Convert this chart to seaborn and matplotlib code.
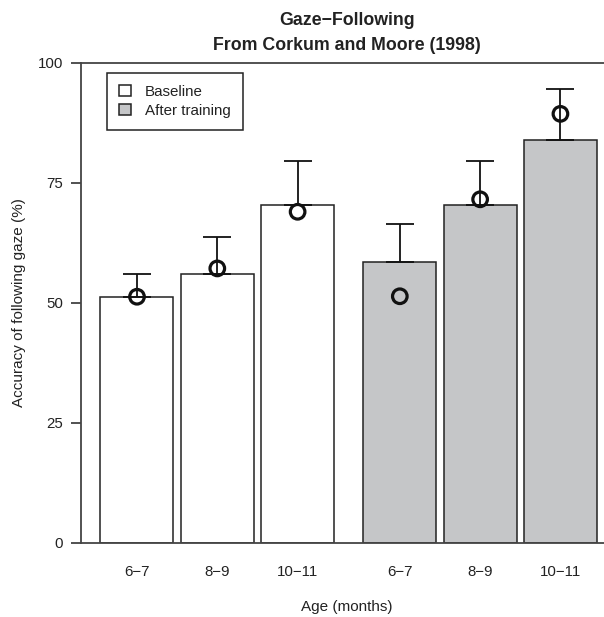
import numpy as np
import pandas as pd
import seaborn as sns
import matplotlib.pyplot as plt

# Gaze-following accuracy, Corkum and Moore (1998)
ages = ["6\u22127", "8\u22129", "10\u221211"]
conditions = ["Baseline", "After training"]

baseline_mean = [51.2, 56.0, 70.3]
baseline_upper = [56.0, 63.6, 79.4]
baseline_points = [51.2, 57.1, 68.9]

training_mean = [58.4, 70.3, 83.9]
training_upper = [66.4, 79.4, 94.5]
training_points = [51.3, 71.5, 89.3]

y_ticks = [0, 25, 50, 75, 100]

sns.set_theme(style="white")
plt.rcParams["font.family"] = ["Liberation Sans", "DejaVu Sans"]
plt.rcParams["text.color"] = "#222222"
plt.rcParams["axes.labelcolor"] = "#222222"
plt.rcParams["xtick.color"] = "#222222"
plt.rcParams["ytick.color"] = "#222222"

# bar layout: unit-width bars, small gap inside a group, larger gap between groups
n = len(ages)
pos = []
for g in range(len(conditions)):
    for i in range(n):
        pos.append(g * (n * 1.1 + 0.3) + i * 1.1)
pos = np.round(pos, 3)

df = pd.DataFrame({
    "pos": pos,
    "accuracy": baseline_mean + training_mean,
    "upper": baseline_upper + training_upper,
    "point": baseline_points + training_points,
    "condition": [conditions[0]] * n + [conditions[1]] * n,
    "age": ages * 2,
})

fig = plt.figure(figsize=(6.04, 6.17), dpi=100)
ax = fig.add_axes([81 / 604, 74.5 / 617, 532 / 604, 480 / 617])

sns.barplot(data=df, x="pos", y="accuracy", hue="condition",
            palette={"Baseline": "white", "After training": "#c5c6c8"},
            native_scale=True, dodge=False, width=1 / 1.1, errorbar=None,
            edgecolor="#222222", linewidth=1.1, ax=ax, zorder=2)

# upper error bars only
ax.errorbar(df["pos"], df["accuracy"],
            yerr=[np.zeros(len(df)), df["upper"] - df["accuracy"]],
            fmt="none", ecolor="#111111", elinewidth=1.3, capsize=10, capthick=1.3, zorder=3)

sns.scatterplot(x=df["pos"], y=df["point"], marker="o", s=110, facecolor="none",
                edgecolor="#111111", linewidth=2.3, ax=ax, zorder=4, legend=False)

ax.set_xlim(-0.767, 6.52)
ax.set_ylim(0, 100)
ax.set_yticks(y_ticks)
ax.set_xticks(df["pos"], df["age"])
ax.tick_params(axis="x", length=0, pad=16, labelsize=10.8)
ax.tick_params(axis="y", length=7, width=1.1, pad=6, labelsize=10.8, left=True)

for s in ax.spines.values():
    s.set_color("#444444")
    s.set_linewidth(1.3)

ax.set_xlabel("Age (months)", fontsize=11, labelpad=15)
ax.set_ylabel("Accuracy of following gaze (%)", fontsize=11, labelpad=8)
ax.set_title("Gaze\u2212Following\nFrom Corkum and Moore (1998)",
             fontsize=12.8, fontweight="bold", pad=9, linespacing=1.6)

handles, labels = ax.get_legend_handles_labels()
leg = ax.legend(handles, labels, loc="upper left", bbox_to_anchor=(0.049, 0.979),
                borderaxespad=0, fancybox=False, framealpha=1, edgecolor="#222222",
                fontsize=10.9, handlelength=0.8, handleheight=0.8, handletextpad=0.9,
                labelspacing=0.32, borderpad=0.8)
leg.get_frame().set_linewidth(1.1)

fig.savefig("out.png", dpi=100)
